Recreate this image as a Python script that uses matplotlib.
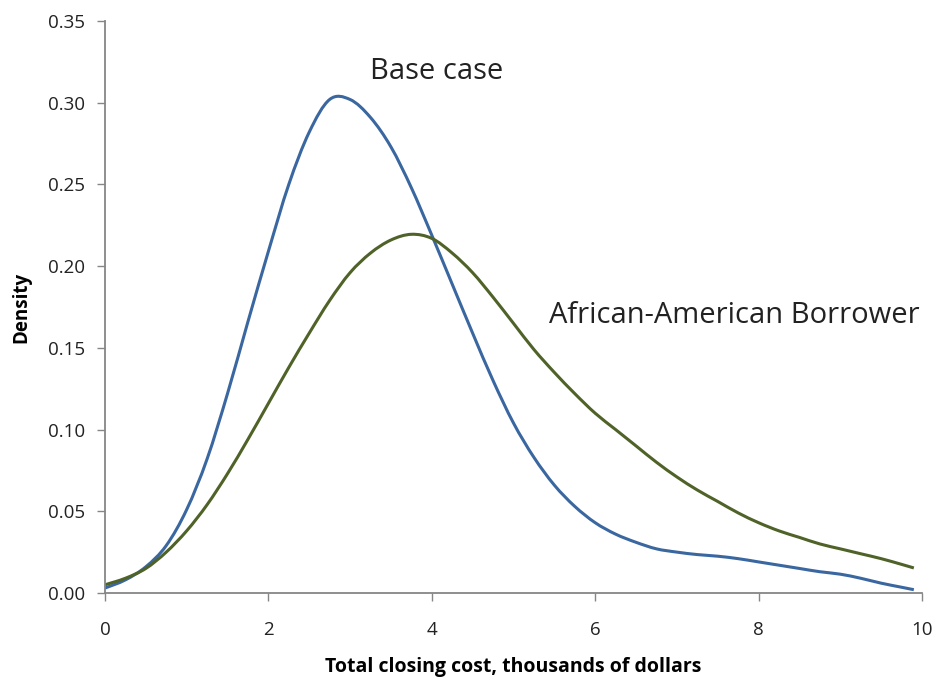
import matplotlib
matplotlib.use("Agg")
import matplotlib.pyplot as plt
from matplotlib.path import Path
from matplotlib.patches import PathPatch
import numpy as np

# density curves
cost = [0.0, 0.25, 0.5, 0.75, 1.0, 1.25, 1.5, 1.75, 2.0, 2.25, 2.5, 2.75, 3.0,
        3.25, 3.5, 3.75, 4.0, 4.25, 4.5, 4.75, 5.0, 5.25, 5.5, 5.75, 6.0, 6.25,
        6.5, 6.75, 7.0, 7.25, 7.5, 7.75, 8.0, 8.25, 8.5, 8.75, 9.0, 9.25, 9.5,
        9.75, 9.9]

base_case = [0.003, 0.008, 0.016, 0.029, 0.051, 0.082, 0.122, 0.166, 0.209,
             0.250, 0.282, 0.302, 0.302, 0.291, 0.273, 0.248, 0.219, 0.189,
             0.159, 0.130, 0.104, 0.083, 0.066, 0.053, 0.043, 0.036, 0.031,
             0.027, 0.025, 0.0235, 0.0225, 0.021, 0.019, 0.017, 0.015, 0.013,
             0.0115, 0.009, 0.006, 0.0035, 0.002]

african_american = [0.005, 0.009, 0.015, 0.025, 0.038, 0.054, 0.073, 0.094,
                    0.116, 0.138, 0.159, 0.179, 0.196, 0.208, 0.216, 0.2195,
                    0.217, 0.208, 0.196, 0.181, 0.165, 0.149, 0.135, 0.122,
                    0.110, 0.100, 0.090, 0.080, 0.071, 0.063, 0.056, 0.049,
                    0.043, 0.038, 0.034, 0.030, 0.027, 0.024, 0.021, 0.0175,
                    0.0153]

x_ticks = [0, 2, 4, 6, 8, 10]
y_ticks = [0.00, 0.05, 0.10, 0.15, 0.20, 0.25, 0.30, 0.35]


def smooth_path(xs, ys):
    # Excel-style smoothed line: Catmull-Rom segments drawn as cubic Beziers
    p = np.column_stack([xs, ys])
    verts = [p[0]]
    codes = [Path.MOVETO]
    n = len(p)
    for i in range(n - 1):
        p0 = p[max(i - 1, 0)]
        p1 = p[i]
        p2 = p[i + 1]
        p3 = p[min(i + 2, n - 1)]
        c1 = p1 + (p2 - p0) / 6.0
        c2 = p2 - (p3 - p1) / 6.0
        verts += [c1, c2, p2]
        codes += [Path.CURVE4] * 3
    return Path(verts, codes)


plt.rcParams['font.family'] = ['Open Sans', 'DejaVu Sans']
grey = "#868686"

fig = plt.figure(figsize=(9.37, 6.79), dpi=100)
ax = fig.add_axes([0.112, 0.1267, 0.872, 0.8423])

for ys, col in [(base_case, "#3A67A0"), (african_american, "#4F6228")]:
    ax.add_patch(PathPatch(smooth_path(cost, ys), facecolor="none",
                           edgecolor=col, lw=2.2, capstyle="butt"))

ax.set_xlim(0, 10)
ax.set_ylim(0, 0.35)
ax.set_xticks(x_ticks)
ax.set_yticks(y_ticks)
ax.set_yticklabels([f"{v:.2f}" for v in y_ticks])

for side in ["top", "right"]:
    ax.spines[side].set_visible(False)
for side in ["left", "bottom"]:
    ax.spines[side].set_color(grey)
    ax.spines[side].set_linewidth(1.3)
ax.tick_params(direction="out", length=6, width=1, color=grey,
               labelsize=13.5, labelcolor="#222222", pad=8)
ax.tick_params(axis="x", pad=14)

ax.set_xlabel("Total closing cost, thousands of dollars", fontsize=14,
              fontweight="bold", labelpad=13)
ax.set_ylabel("Density", fontsize=13.5, fontweight="bold", labelpad=12)

ax.text(3.24, 0.319, "Base case", fontsize=21, va="center", ha="left",
        color="#222222")
ax.text(5.43, 0.1695, "African-American Borrower", fontsize=21, va="center",
        ha="left", color="#222222")

fig.savefig("out.png", dpi=100)
